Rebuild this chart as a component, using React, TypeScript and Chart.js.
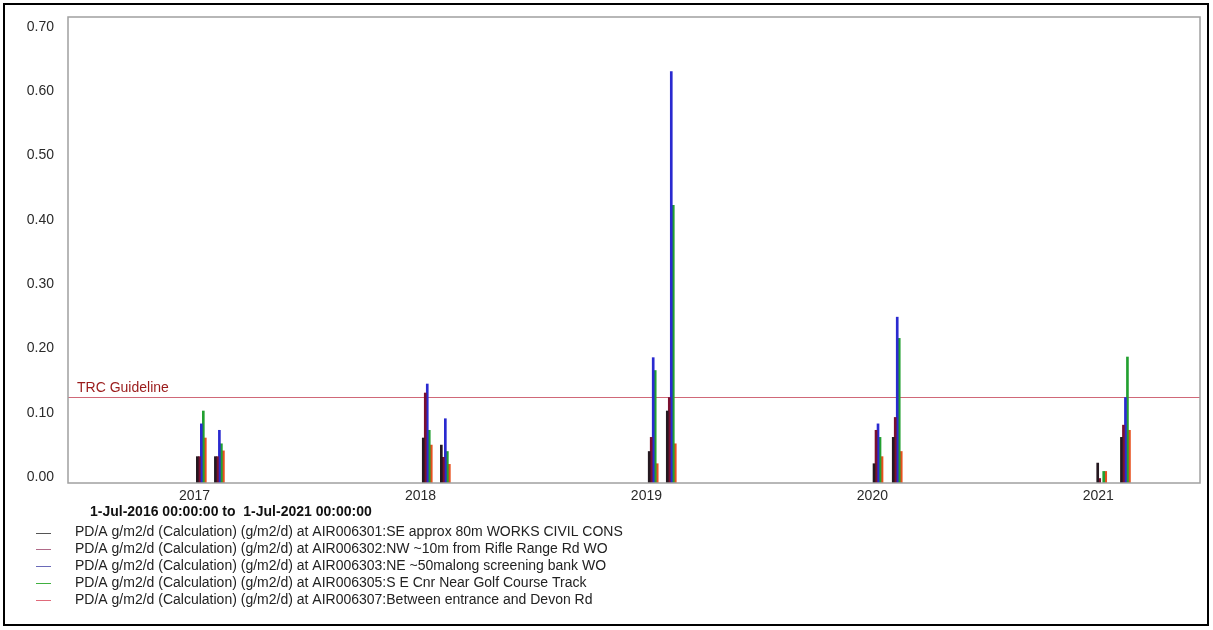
import { useEffect, useRef } from "react";
import { Chart, registerables } from "chart.js";

Chart.register(...registerables);

// ---- data ----
const SAMPLE_DATES = [2017.03, 2017.11, 2018.03, 2018.11, 2019.03, 2019.11, 2020.025, 2020.11, 2021.015, 2021.12];

const SERIES_NAMES = [
  "PD/A g/m2/d (Calculation) (g/m2/d) at AIR006301:SE approx 80m WORKS CIVIL CONS",
  "PD/A g/m2/d (Calculation) (g/m2/d) at AIR006302:NW ~10m from Rifle Range Rd WO",
  "PD/A g/m2/d (Calculation) (g/m2/d) at AIR006303:NE ~50malong screening bank WO",
  "PD/A g/m2/d (Calculation) (g/m2/d) at AIR006305:S E Cnr Near Golf Course Track",
  "PD/A g/m2/d (Calculation) (g/m2/d) at AIR006307:Between entrance and Devon Rd",
];

const AIR006301 = [0.041, 0.041, 0.07, 0.059, 0.049, 0.112, 0.03, 0.071, 0.031, 0.071];
const AIR006302 = [0.041, 0.041, 0.14, 0.04, 0.071, 0.133, 0.082, 0.102, 0.007, 0.09];
const AIR006303 = [0.092, 0.082, 0.154, 0.1, 0.195, 0.64, 0.092, 0.258, null, 0.133];
const AIR006305 = [0.112, 0.061, 0.082, 0.049, 0.175, 0.432, 0.071, 0.225, 0.018, 0.196];
const AIR006307 = [0.07, 0.05, 0.059, 0.029, 0.03, 0.061, 0.041, 0.049, 0.018, 0.082];

const SERIES_VALUES = [AIR006301, AIR006302, AIR006303, AIR006305, AIR006307];

const YEAR_TICKS = [2017, 2018, 2019, 2020, 2021];
const Y_TICKS = [0, 0.1, 0.2, 0.3, 0.4, 0.5, 0.6, 0.7];

const GUIDELINE = 0.133;
const GUIDELINE_LABEL = "TRC Guideline";
const DATE_RANGE_LABEL = "1-Jul-2016 00:00:00 to  1-Jul-2021 00:00:00";

const X_MIN = 2016.44;
const X_MAX = 2021.45;
const Y_MIN = 0;
const Y_MAX = 0.725;

// ---- styles ----
const BAR_COLORS = ["#241820", "#7a1030", "#2a2ad0", "#22a030", "#e8501e"];
const LEGEND_COLORS = ["#555555", "#b06a88", "#6a6ab8", "#40b040", "#e06a7a"];
const FONT = "'Liberation Sans', Arial, sans-serif";

const decorPlugin = {
  id: "decor",
  afterDatasetsDraw(chart: any) {
    const { ctx, chartArea } = chart;
    ctx.save();
    ctx.strokeStyle = "#a0a0a0";
    ctx.lineWidth = 1.5;
    ctx.strokeRect(chartArea.left, chartArea.top, chartArea.right - chartArea.left, chartArea.bottom - chartArea.top);
    // guideline label
    const gy = chart.scales.y.getPixelForValue(GUIDELINE);
    ctx.fillStyle = "#9a1a1a";
    ctx.font = `14px ${FONT}`;
    ctx.textBaseline = "bottom";
    ctx.textAlign = "left";
    ctx.fillText(GUIDELINE_LABEL, chartArea.left + 9, gy - 2);
    ctx.restore();
  },
  afterDraw(chart: any) {
    const { ctx } = chart;
    ctx.save();
    // outer border
    ctx.strokeStyle = "#000000";
    ctx.lineWidth = 2;
    ctx.strokeRect(4, 4, 1204, 621);
    // date range
    ctx.fillStyle = "#111111";
    ctx.font = `bold 14px ${FONT}`;
    ctx.textBaseline = "middle";
    ctx.textAlign = "left";
    ctx.fillText(DATE_RANGE_LABEL, 90, 512);
    // legend
    ctx.font = `14px ${FONT}`;
    const bars = chart.data.datasets.filter((d: any) => d.type !== "line");
    bars.forEach((d: any, i: number) => {
      const y = 532.5 + i * 16.8;
      ctx.strokeStyle = LEGEND_COLORS[i];
      ctx.lineWidth = 1;
      ctx.beginPath();
      ctx.moveTo(36, Math.round(y) + 0.5);
      ctx.lineTo(51, Math.round(y) + 0.5);
      ctx.stroke();
      ctx.fillStyle = "#222222";
      ctx.fillText(d.label, 75, y);
    });
    ctx.restore();
  },
};

export default function App() {
  const ref = useRef<HTMLCanvasElement>(null);

  useEffect(() => {
    if (!ref.current) return;
    const datasets: any[] = SERIES_VALUES.map((vals, i) => ({
      type: "bar",
      label: SERIES_NAMES[i],
      data: SAMPLE_DATES.map((x, j) => ({ x, y: vals[j] })),
      backgroundColor: BAR_COLORS[i],
      borderWidth: 0,
      barThickness: 2,
      order: 1,
    }));
    datasets.push({
      type: "line",
      label: GUIDELINE_LABEL,
      data: [
        { x: X_MIN, y: GUIDELINE },
        { x: X_MAX, y: GUIDELINE },
      ],
      borderColor: "#d06878",
      backgroundColor: "#d06878",
      borderWidth: 1,
      pointRadius: 0,
      order: 2,
    });

    const chart = new Chart(ref.current, {
      type: "bar",
      data: { datasets },
      options: {
        animation: false,
        responsive: false,
        devicePixelRatio: 1,
        layout: { padding: { left: 0, top: 17, right: 13, bottom: 117 } },
        plugins: { legend: { display: false }, tooltip: { enabled: false } },
        scales: {
          x: {
            type: "linear",
            min: X_MIN,
            max: X_MAX,
            offset: false,
            grid: { display: false, drawTicks: false },
            border: { display: false },
            afterBuildTicks: (s: any) => {
              s.ticks = YEAR_TICKS.map((v) => ({ value: v }));
            },
            afterFit: (s: any) => {
              s.height = 30;
              s.paddingLeft = 0;
              s.paddingRight = 0;
            },
            ticks: {
              autoSkip: false,
              maxRotation: 0,
              padding: 5,
              color: "#2a2a2a",
              font: { family: FONT, size: 14 },
              callback: (v: any) => String(v),
            },
          },
          y: {
            type: "linear",
            min: Y_MIN,
            max: Y_MAX,
            grid: { display: false, drawTicks: false },
            border: { display: false },
            afterBuildTicks: (s: any) => {
              s.ticks = Y_TICKS.map((v) => ({ value: v }));
            },
            afterFit: (s: any) => {
              s.width = 68;
              s.paddingTop = 0;
              s.paddingBottom = 0;
            },
            ticks: {
              padding: 14,
              labelOffset: -6,
              color: "#2a2a2a",
              font: { family: FONT, size: 14 },
              callback: (v: any) => Number(v).toFixed(2),
            },
          },
        },
      },
      plugins: [decorPlugin],
    } as any);
    return () => chart.destroy();
  }, []);

  return (
    <div style={{ position: "absolute", left: 0, top: 0, width: 1213, height: 630, background: "#fff" }}>
      <canvas ref={ref} width={1213} height={630} style={{ display: "block" }} />
    </div>
  );
}
